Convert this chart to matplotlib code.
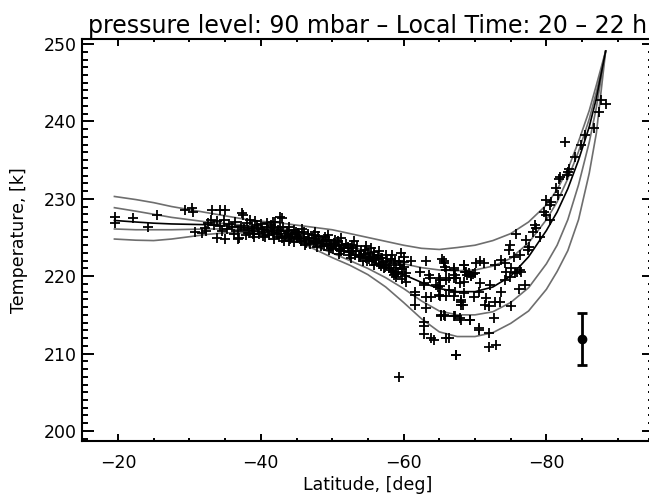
import matplotlib
matplotlib.use("Agg")
import matplotlib.pyplot as plt
from matplotlib.ticker import MultipleLocator

# ---------------- data ----------------
fit_lat = [-19.5, -22.5, -25, -27.5, -30, -32.5, -35, -37.5, -40, -42.5, -45, -47.5, -50,
           -52.5, -55, -57.5, -60, -62.5, -65, -67.5, -70, -72.5, -75, -77.5, -80, -81.5,
           -83, -84.5, -86, -87, -88.3]
fit_upper2 = [230.3, 229.9, 229.5, 229.0, 228.6, 228.2, 227.8, 227.4, 227.1, 226.9, 226.6, 226.3, 226.0,
              225.5, 225.0, 224.5, 224.0, 223.6, 223.45, 223.7, 224.0, 224.6, 225.5, 227.0, 229.2, 231.2,
              233.8, 237.4, 241.4, 244.7, 249.1]
fit_upper1 = [228.85, 228.4, 228.0, 227.6, 227.3, 227.0, 226.8, 226.6, 226.4, 226.2, 225.8, 225.3, 224.6,
              223.9, 223.1, 222.3, 221.6, 221.1, 220.8, 220.7, 220.8, 221.3, 222.3, 224.3, 227.3, 229.6,
              232.6, 236.1, 240.3, 243.8, 249.1]
fit_mean = [227.2, 227.0, 226.85, 226.75, 226.7, 226.65, 226.5, 226.3, 226.0, 225.6, 225.1, 224.5, 223.8,
            223.0, 222.2, 221.2, 220.2, 219.2, 218.4, 218.0, 218.0, 218.6, 220.0, 222.5, 225.9, 228.3,
            231.3, 235.0, 239.3, 243.0, 249.1]
fit_lower1 = [226.1, 226.0, 226.0, 226.0, 226.05, 226.1, 226.1, 226.0, 225.7, 225.3, 224.7, 223.9, 223.0,
              222.0, 221.0, 219.8, 218.4, 216.8, 215.5, 215.0, 215.0, 215.4, 216.6, 218.5, 221.6, 224.0,
              227.3, 231.8, 237.3, 241.8, 249.1]
fit_lower2 = [224.8, 224.65, 224.6, 224.8, 225.1, 225.4, 225.6, 225.6, 225.5, 225.2, 224.5, 223.5, 222.4,
              221.4, 220.2, 218.6, 216.6, 214.5, 212.8, 212.2, 212.2, 212.7, 213.9, 215.5, 218.3, 220.6,
              223.3, 227.3, 233.3, 238.5, 249.1]

obs_lat = [
    # low latitudes
    -19.6, -19.6, -22.1, -24.2, -25.4, -29.4, -30.3, -30.5, -30.8, -32.2, -33.1, -34.3, -35.0,
    -33.8, -35.0, -36.8, -37.3, -37.5, -42.7, -41.7, -42.9,
    -32.6, -33.0, -33.4, -33.9, -34.3, -34.8, -35.2, -31.8, -32.3, -34.6, -36.2, -37.0,
    # dense band
    -35.5, -36.0, -36.4, -36.8, -37.2, -37.6, -38.0, -38.3, -38.7, -39.0, -39.4, -39.8, -40.1, -40.5, -40.8,
    -41.2, -41.5, -41.9, -42.2, -42.5, -42.8, -43.1, -43.4, -43.8, -44.1, -44.4, -44.7, -45.0, -45.3, -45.6,
    -46.0, -46.3, -46.6, -46.9, -47.2, -47.5, -47.8, -48.1, -48.4, -48.7, -49.0, -49.3, -49.6, -49.9, -50.2,
    -50.5, -50.8, -51.1, -51.4, -51.7, -52.0, -52.3, -52.6, -52.9, -53.2, -53.5, -53.8, -54.1, -54.4, -54.7,
    -55.0, -55.3, -55.6, -55.9, -56.2, -56.5, -56.8, -57.1, -57.4, -57.7, -58.0, -58.3, -58.6, -58.9, -59.2,
    -59.5, -59.8, -60.1, -60.3,
    -38.2, -38.9, -39.6, -40.3, -41.0, -41.7, -42.4, -43.0, -43.6, -44.2, -44.9, -45.5, -46.1, -46.8, -47.4,
    -48.0, -48.6, -49.2, -49.8, -50.4, -51.0, -51.6, -52.2, -52.8, -53.4, -54.0, -54.6, -55.2, -55.8, -56.4,
    -57.0, -57.6, -58.2, -58.8, -59.4, -60.0, -59.0, -58.5, -57.9, -56.9, -55.7, -54.9, -53.9, -52.5, -51.3,
    -50.1, -48.9, -47.7, -46.4, -45.2, -43.9, -42.7, -41.4, -40.0, -39.2,
    -37.9, -39.1, -40.6, -41.8, -43.3, -44.6, -46.2, -47.9, -49.5, -51.0, -52.7, -54.3, -55.9, -57.3, -58.7,
    -60.2, -38.5, -40.9, -42.0, -44.0, -45.8, -47.6, -49.4, -51.2, -53.0, -54.8, -56.6, -58.4, -60.0, -59.6,
    -57.5, -55.5, -59.8, -60.4, -58.9,
    # -60 .. -71 scatter
    -61.1, -63.2, -65.4, -65.6, -68.4, -70.2, -67.0, -62.3, -63.5, -63.7, -64.9, -66.3, -67.4, -69.4, -70.0,
    -62.8, -62.8, -64.6, -64.8, -61.6, -61.6, -63.2, -63.9, -64.9, -66.0, -67.0, -68.1, -68.1, -61.6, -63.2,
    -65.3, -65.6, -67.0, -68.1, -69.3, -62.8, -62.8, -62.8, -63.9, -64.2, -66.3, -70.5, -67.4, -59.3,
    # -65 .. -88 scatter
    -82.6, -84.9, -87.7, -88.4, -87.3, -86.6, -85.4, -84.0, -83.1, -83.0, -82.9, -81.9, -81.7, -81.4, -81.6,
    -80.0, -80.7, -80.5, -79.6, -79.9, -80.5, -78.4, -78.6, -78.1, -79.1, -75.8, -77.2, -77.6, -77.4, -74.9,
    -74.7, -76.3, -75.4, -73.7, -74.2, -72.8, -71.2, -70.7, -75.1, -74.4, -75.6, -76.3,
    -68.6, -68.9, -69.2, -69.5, -69.7, -68.8, -67.2, -67.0, -65.6, -65.8, -66.0, -67.0, -68.4,
    -65.1, -66.0, -67.9, -68.4, -70.7, -72.1, -74.2, -74.9, -75.9, -76.5, -76.1, -77.0,
    -66.3, -67.2, -68.4, -65.1, -65.1, -69.8, -70.5, -71.6, -72.8, -73.5, -73.7, -75.1, -68.1, -68.3,
    -71.4, -71.9, -65.3, -65.8, -67.2, -67.9, -69.3, -72.6, -70.5, -71.9, -66.0, -71.9, -73.0, -67.4,
]
obs_temp = [
    227.6, 226.9, 227.5, 226.4, 227.9, 228.5, 228.8, 228.3, 225.75, 226.2, 228.55, 228.55, 228.55,
    224.9, 224.8, 224.8, 228.2, 227.9, 227.6, 227.0, 227.5,
    226.9, 227.3, 226.6, 227.1, 226.5, 227.2, 226.1, 225.6, 225.9, 225.8, 225.5, 224.9,
    226.8, 226.3, 227.0, 225.9, 226.5, 226.1, 226.9, 225.6, 226.3, 225.9, 226.6, 225.4, 226.1, 225.7, 226.4,
    225.3, 225.9, 226.2, 225.5, 225.0, 225.8, 226.3, 225.2, 225.6, 224.8, 225.4, 226.0, 224.9, 225.3, 224.5,
    225.1, 224.6, 225.5, 224.2, 224.9, 225.3, 224.4, 224.8, 223.9, 224.6, 225.0, 224.1, 224.5, 223.7, 224.3,
    223.9, 224.6, 223.4, 224.0, 223.6, 224.2, 223.1, 223.7, 223.3, 222.8, 223.9, 222.6, 223.2, 222.9, 222.3,
    223.0, 222.5, 221.9, 222.7, 222.2, 221.6, 222.4, 221.8, 221.2, 222.0, 221.4, 220.8, 221.7, 221.1, 220.5,
    221.5, 220.9, 221.8, 220.4,
    226.0, 225.5, 226.2, 225.2, 226.0, 225.6, 226.0, 224.9, 225.9, 225.1, 225.7, 224.8, 225.7, 224.9, 224.3,
    225.2, 224.2, 224.7, 224.2, 224.7, 224.0, 223.2, 223.8, 224.0, 223.3, 222.7, 223.4, 222.2, 223.1, 222.6,
    222.3, 221.5, 222.2, 221.9, 222.0, 221.2, 220.3, 220.6, 221.0, 221.3, 222.4, 221.9, 222.5, 222.7, 223.3,
    223.5, 223.9, 224.6, 224.3, 225.6, 224.5, 226.4, 226.6, 226.8, 227.1,
    225.3, 225.1, 225.0, 224.8, 224.6, 224.4, 224.0, 223.8, 223.4, 222.9, 222.4, 222.0, 221.5, 221.0, 220.2,
    220.0, 227.3, 226.9, 227.0, 226.4, 226.1, 225.7, 225.3, 224.9, 224.5, 223.9, 223.3, 222.8, 222.5, 223.0,
    222.8, 223.6, 219.6, 219.2, 219.9,
    221.9, 221.9, 222.2, 221.7, 221.45, 221.7, 221.0, 220.6, 220.2, 219.7, 219.7, 219.7, 219.7, 220.0, 220.4,
    219.1, 218.8, 218.9, 218.6, 218.0, 217.6, 217.35, 217.3, 217.6, 217.5, 217.4, 216.7, 216.3, 216.3, 215.85,
    215.0, 215.0, 214.8, 214.3, 214.3, 214.1, 213.5, 212.5, 212.0, 211.7, 212.0, 213.05, 209.8, 207.0,
    237.4, 236.95, 242.8, 242.25, 241.25, 239.1, 238.2, 235.4, 233.9, 233.5, 233.1, 232.85, 232.5, 231.35, 230.5,
    229.8, 229.6, 229.2, 228.3, 227.9, 227.3, 226.6, 226.2, 225.75, 225.1, 225.5, 224.7, 223.8, 223.4, 224.0,
    223.4, 222.7, 222.5, 222.1, 221.7, 221.45, 221.7, 221.9, 221.0, 220.6, 220.4, 220.8,
    220.6, 220.1, 220.4, 220.0, 220.3, 220.5, 220.2, 219.7, 221.9, 221.2, 220.8, 220.8, 221.45,
    219.5, 219.5, 219.1, 219.3, 219.1, 218.9, 219.5, 219.9, 220.6, 220.6, 218.4, 218.9,
    218.2, 218.0, 217.8, 218.7, 217.4, 217.35, 218.0, 217.15, 216.7, 216.7, 218.0, 216.1, 216.9, 216.3,
    216.3, 216.1, 214.8, 214.8, 214.8, 214.55, 214.3, 214.55, 213.3, 212.6, 212.0, 210.9, 211.1, 209.8,
]

err_lat = [-85.0]
err_temp = [211.85]
err_size = [3.35]

x_limits = (-15, -95)
y_limits = (198.7, 250.65)
title_text = "pressure level: 90 mbar \u2013 Local Time: 20 \u2013 22 h"
x_label = "Latitude, [deg]"
y_label = "Temperature, [k]"

# ---------------- figure ----------------
W, H = 649, 496
fig = plt.figure(figsize=(W / 100, H / 100), dpi=100)
L, R, T, B = 82.3, 653.5, 39, 441
ax = fig.add_axes([L / W, 1 - B / H, (R - L) / W, (B - T) / H])

gray = "#6e6e6e"
ax.plot(fit_lat, fit_upper2, color=gray, lw=1.2, zorder=2)
ax.plot(fit_lat, fit_upper1, color=gray, lw=1.2, zorder=2)
ax.plot(fit_lat, fit_lower1, color=gray, lw=1.2, zorder=2)
ax.plot(fit_lat, fit_lower2, color=gray, lw=1.2, zorder=2)
ax.plot(fit_lat, fit_mean, color="black", lw=1.2, zorder=3)

ax.plot(obs_lat, obs_temp, linestyle="none", marker="+", color="black",
        markersize=7.5, markeredgewidth=1.3, zorder=4)

ax.errorbar(err_lat, err_temp, yerr=err_size, fmt="o", color="black",
            markersize=6, elinewidth=2, capsize=3.5, capthick=2, zorder=5)

ax.set_xlim(*x_limits)
ax.set_ylim(*y_limits)

ax.xaxis.set_major_locator(MultipleLocator(20))
ax.xaxis.set_minor_locator(MultipleLocator(5))
ax.yaxis.set_major_locator(MultipleLocator(10))
ax.yaxis.set_minor_locator(MultipleLocator(1))

for s in ax.spines.values():
    s.set_linewidth(1.5)

ax.tick_params(axis="both", which="both", direction="in", top=True, right=True,
               width=1.4, labelsize=12.5, colors="black")
ax.tick_params(axis="x", which="major", length=5, pad=9)
ax.tick_params(axis="x", which="minor", length=2.5)
ax.tick_params(axis="y", which="major", length=8.5, pad=4)
ax.tick_params(axis="y", which="minor", length=4.2)

ax.set_title(title_text, fontsize=17, pad=4)
ax.set_xlabel(x_label, fontsize=12.5, labelpad=3.5)
ax.set_ylabel(y_label, fontsize=12.5, labelpad=11)

fig.savefig("out.png", dpi=100)
